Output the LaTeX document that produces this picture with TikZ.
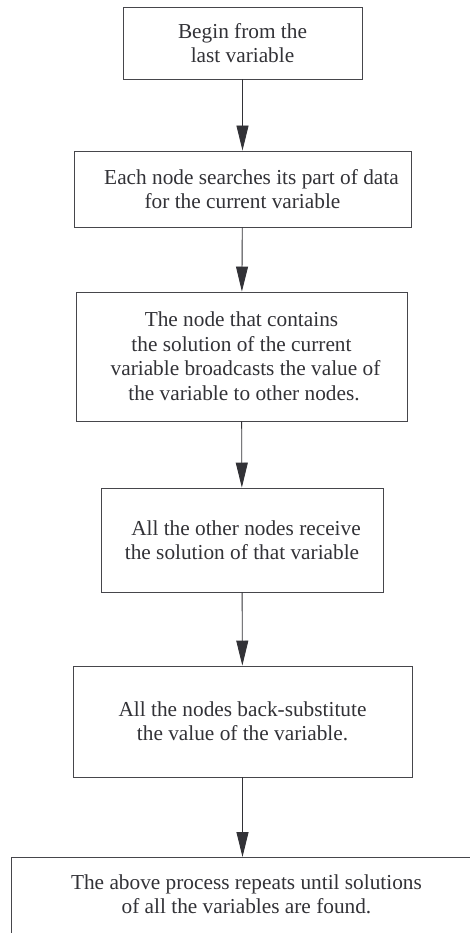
\documentclass[tikz,border=0pt]{standalone}
\usepackage{fontspec}
\setmainfont{Liberation Serif}
\usetikzlibrary{arrows.meta}
\definecolor{ink}{RGB}{50,50,55}
\definecolor{edge}{RGB}{70,70,75}
\begin{document}
\begin{tikzpicture}[x=1pt,y=-1pt,
  stepbox/.style={draw=edge, line width=0.9pt, inner sep=0pt, align=center, text=ink,
    font=\fontsize{21.3}{24.5}\selectfont},
  flow/.style={draw=ink, line width=0.9pt, -{Triangle[length=25pt,width=12pt]}}]
\useasboundingbox (0,0) rectangle (470,933);
\clip (0,0) rectangle (470,933);
\fill[white] (0,0) rectangle (470,933);
\node[stepbox, minimum width=239pt, minimum height=72pt] (b1) at (242.5,43)
  {Begin from the\\last variable};
\node[stepbox, minimum width=337pt, minimum height=76pt] (b2) at (242.5,189)
  {\hspace*{18pt}Each node searches its part of data\\for the current variable};
\node[stepbox, minimum width=331pt, minimum height=129pt] (b3) at (241.5,356.5)
  {The node that contains\\the solution of the current\\\hspace*{8pt}variable broadcasts the value of\\\hspace*{5pt}the variable to other nodes.};
\node[stepbox, minimum width=282pt, minimum height=104pt] (b4) at (242,540)
  {\hspace*{8pt}All the other nodes receive\\the solution of that variable};
\node[stepbox, minimum width=339pt, minimum height=111pt] (b5) at (242.5,721.5)
  {All the nodes back-substitute\\the value of the variable.};
\node[stepbox, draw=none, minimum width=470pt, minimum height=74pt, anchor=north west] (b6) at (11,857)
  {The above process repeats until solutions\\of all the variables are found.};
\draw[draw=edge, line width=0.9pt] ([yshift=-30pt]b6.south west) -- (b6.north west) -- (b6.north east) -- ([yshift=-30pt]b6.south east);
\draw[flow] (b1) -- (b2);
\draw[flow] (b2) -- (b3);
\draw[flow] (b3) -- (b4);
\draw[flow] (b4) -- (b5);
\draw[flow] (b5.south) -- (b5.south |- b6.north);
\end{tikzpicture}
\end{document}
